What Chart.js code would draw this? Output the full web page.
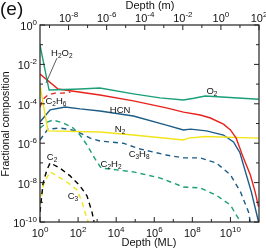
<!DOCTYPE html>
<html><head><meta charset="utf-8">
<script src="https://cdn.jsdelivr.net/npm/chart.js@4.4.1/dist/chart.umd.min.js"></script>
<style>html,body{margin:0;padding:0;background:#fff;overflow:hidden}canvas{display:block}</style>
</head><body>
<canvas id="c" width="266" height="250"></canvas>
<script>
// ---- data (depth in monolayers, fractional composition) ----
const o2Depth   = [1, 3, 130, 1.4e3, 8e4, 2e6, 3.4e7, 1.2e8, 4.8e8, 3e11];
const o2Frac    = [9.5e-2, 5.0e-4, 5.6e-4, 6.3e-4, 3.2e-4, 2.0e-4, 1.55e-4, 1.9e-4, 2.5e-4, 1.7e-4];

const h2o2Depth = [1, 8.9, 1.4e3, 8e4, 4.3e6, 3.4e7, 2.6e8, 8.9e8, 4.3e9, 1e10, 2e10, 4.8e10, 1.1e11, 2e11, 3e11];
const h2o2Frac  = [3.2e-3, 5.6e-4, 2.8e-4, 1.4e-4, 6.2e-5, 3.8e-5, 2.7e-5, 1.9e-5, 9.3e-6, 4.7e-6, 1.8e-6, 1.8e-7, 2.5e-8, 3.3e-9, 5.8e-10];

const hcnDepth  = [1, 3.4, 21, 126, 1.4e3, 8e4, 4.3e6, 3.4e7, 8e7, 5.5e8, 4.3e9, 1.45e10, 3.2e10, 4.8e10, 1.26e11, 3e11];
const hcnFrac   = [1.2e-5, 4.9e-5, 6.9e-5, 5.5e-5, 4.3e-5, 2.4e-5, 8.3e-6, 4.7e-6, 5.2e-6, 4.2e-6, 2.6e-6, 1.15e-6, 3.2e-7, 7.9e-8, 3.3e-9, 1e-10];

const n2Depth   = [1, 2.6, 1.4e3, 8e4, 3.4e7, 6.3e7, 4.8e8, 3e11];
const n2Frac    = [8.9e-4, 4.2e-6, 3.7e-6, 2.6e-6, 1.45e-6, 1.8e-6, 2.2e-6, 1.8e-6];

const c2h6Depth = [1, 1.45, 2.6, 6.2, 16, 40];
const c2h6Frac  = [6.9e-5, 1.7e-4, 2.8e-4, 3.5e-4, 3.5e-4, 4.0e-4];

const c3h8Depth = [1, 2.6, 11, 48, 126, 430, 1.4e3, 2.3e4, 1.8e5, 4.3e6, 3.4e7, 2.6e8, 1.8e9, 1e10, 3.4e10, 8.9e10, 1.1e11];
const c3h8Frac  = [1.45e-6, 5.2e-6, 5.9e-6, 4.7e-6, 3.3e-6, 1.8e-6, 1.3e-6, 1.0e-6, 5.1e-7, 2.5e-7, 1.8e-7, 1.8e-7, 1e-7, 2.5e-8, 3.3e-9, 3.2e-10, 1e-10];

const c2h2Depth = [1, 2.6, 4.8, 16, 55, 126, 295, 780, 1.6e3, 8e4, 2.1e6, 3.4e7, 2.6e8, 1.8e9, 1e10, 2e10, 3.4e10];
const c2h2Frac  = [5.9e-6, 1.2e-5, 1.5e-5, 1.07e-5, 5.9e-6, 2.6e-6, 8.1e-7, 1.6e-7, 5.5e-8, 3.5e-8, 1.7e-8, 6e-9, 5.4e-9, 2.3e-9, 7.2e-10, 2.3e-10, 1e-10];

const c2Depth   = [1, 1.45, 2.3, 3.4, 11, 38, 126, 295, 550, 690];
const c2Frac    = [3.2e-10, 9.5e-9, 4.4e-8, 1e-7, 5.5e-8, 2.2e-8, 6.8e-9, 2.1e-9, 2.9e-10, 1e-10];

const c3Depth   = [1, 1.6, 3.4, 6.2, 26, 89, 160, 230, 340];
const c3Frac    = [7.2e-10, 9.5e-9, 3.5e-8, 2.5e-8, 1.07e-8, 4.2e-9, 1.05e-9, 3.2e-10, 1e-10];

// axis ranges / ticks (exponents)
const depthMLMin = 1, depthMLMax = 3.1623e11;
const metresPerML = 3.1623e-10;
const bottomTickExps = [0,1,2,3,4,5,6,7,8,9,10,11];
const bottomLabelExps = [0,2,4,6,8,10];
const topTickExps = [-9,-8,-7,-6,-5,-4,-3,-2,-1,0,1,2];
const topLabelExps = [-8,-6,-4,-2,0,2];
const yTickExps = [0,-1,-2,-3,-4,-5,-6,-7,-8,-9,-10];
const yLabelExps = [0,-2,-4,-6,-8,-10];

// curve labels: [parts, depth, frac]
const curveLabels = [
  [[['H',0],['2',1],['O',0],['2',1]], 14, 3.8e-2],
  [[['C',0],['2',1],['H',0],['6',1]], 6.9, 1.55e-4],
  [[['HCN',0]], 1.6e4, 4.9e-5],
  [[['O',0],['2',1]], 1.07e9, 5e-4],
  [[['N',0],['2',1]], 1.6e4, 5.9e-6],
  [[['C',0],['3',1],['H',0],['8',1]], 1.6e5, 2.9e-7],
  [[['C',0],['2',1],['H',0],['2',1]], 5.4e3, 9.5e-8],
  [[['C',0],['2',1]], 4.3, 2.2e-7],
  [[['C',0],['3',1]], 54, 2.1e-9]
];
const leaderFrom = [7.8, 2.1e-2], leaderTo = [2.07, 1.15e-3];

const GREEN = '#1a9f78', RED = '#e8221c', YELLOW = '#f2e41a', BLUE = '#1d5c86', BLACK = '#000000';
const FONT = '"Liberation Sans", Arial, sans-serif';
const CA = {left: 40, right: 259, top: 25, bottom: 222};

function pts(xs, ys){ return xs.map((x,i)=>({x:x, y:ys[i]})); }
function ds(label, xs, ys, color, dashed){
  return {label, data: pts(xs, ys), borderColor: color, borderWidth: 1.4, pointRadius: 0,
    tension: 0, fill: false, borderDash: dashed ? [5,4] : [], xAxisID: 'x', yAxisID: 'y'};
}

function drawPow(ctx, x, y, exp, align){
  const big = '10', small = String(exp);
  ctx.font = '11px ' + FONT;
  const wb = ctx.measureText(big).width;
  ctx.font = '8px ' + FONT;
  const ws = ctx.measureText(small).width;
  const tot = wb + ws;
  let x0 = align === 'center' ? x - tot/2 : x - tot;
  ctx.textAlign = 'left'; ctx.textBaseline = 'alphabetic';
  ctx.font = '11px ' + FONT; ctx.fillText(big, x0, y);
  ctx.font = '8px ' + FONT; ctx.fillText(small, x0 + wb, y - 5);
}
function drawChem(ctx, parts, cx, cy){
  const big = '9.5px ', sub = '6.5px ';
  let w = 0;
  parts.forEach(p => { ctx.font = (p[1] ? sub : big) + FONT; w += ctx.measureText(p[0]).width; });
  let x = cx - w/2;
  ctx.textAlign = 'left'; ctx.textBaseline = 'alphabetic';
  parts.forEach(p => {
    ctx.font = (p[1] ? sub : big) + FONT;
    ctx.fillText(p[0], x, p[1] ? cy + 5.5 : cy + 3.5);
    x += ctx.measureText(p[0]).width;
  });
}

const decor = {
  id: 'decor',
  afterDraw(chart){
    const ctx = chart.ctx, a = chart.chartArea;
    const sx = chart.scales.x, sxt = chart.scales.xTop, sy = chart.scales.y;
    ctx.save();
    ctx.strokeStyle = '#222'; ctx.fillStyle = '#111'; ctx.lineWidth = 1.2;
    ctx.strokeRect(a.left, a.top, a.right - a.left, a.bottom - a.top);
    ctx.lineWidth = 1;
    ctx.beginPath();
    bottomTickExps.forEach(e => { const px = sx.getPixelForValue(Math.pow(10,e)); const L = bottomLabelExps.includes(e)?5:3;
      ctx.moveTo(px, a.bottom); ctx.lineTo(px, a.bottom - L); });
    topTickExps.forEach(e => { const px = sxt.getPixelForValue(Math.pow(10,e)); const L = topLabelExps.includes(e)?5:3;
      ctx.moveTo(px, a.top); ctx.lineTo(px, a.top + L); });
    yTickExps.forEach(e => { const py = sy.getPixelForValue(Math.pow(10,e)); const L = yLabelExps.includes(e)?5:3;
      ctx.moveTo(a.left, py); ctx.lineTo(a.left + L, py);
      ctx.moveTo(a.right, py); ctx.lineTo(a.right - L, py); });
    ctx.stroke();
    bottomLabelExps.forEach(e => drawPow(ctx, sx.getPixelForValue(Math.pow(10,e)), a.bottom + 15, e, 'center'));
    topLabelExps.forEach(e => drawPow(ctx, sxt.getPixelForValue(Math.pow(10,e)), a.top - 3, e, 'center'));
    yLabelExps.forEach(e => drawPow(ctx, a.left - 3, sy.getPixelForValue(Math.pow(10,e)) + 5, e, 'right'));
    // titles
    ctx.font = '11px ' + FONT; ctx.textAlign = 'center'; ctx.textBaseline = 'middle';
    ctx.fillText('Depth (m)', 150, 6);
    ctx.fillText('Depth (ML)', 149, 243);
    ctx.save(); ctx.translate(6, 124); ctx.rotate(-Math.PI/2);
    ctx.font = '10.5px ' + FONT; ctx.fillText('Fractional composition', 0, 0); ctx.restore();
    ctx.font = '19px ' + FONT; ctx.textAlign = 'left'; ctx.fillText('(e)', 0, 10);
    // curve labels
    ctx.fillStyle = '#111';
    curveLabels.forEach(l => drawChem(ctx, l[0], sx.getPixelForValue(l[1]), sy.getPixelForValue(l[2])));
    ctx.strokeStyle = '#333'; ctx.lineWidth = 0.8; ctx.beginPath();
    ctx.moveTo(sx.getPixelForValue(leaderFrom[0]), sy.getPixelForValue(leaderFrom[1]));
    ctx.lineTo(sx.getPixelForValue(leaderTo[0]), sy.getPixelForValue(leaderTo[1]));
    ctx.stroke();
    ctx.restore();
  }
};

const hidden = {ticks: {display: false}, grid: {display: false}, border: {display: false}, title: {display: false}};
new Chart(document.getElementById('c'), {
  type: 'line',
  data: { datasets: [
    ds('O2', o2Depth, o2Frac, GREEN, false),
    ds('H2O2', h2o2Depth, h2o2Frac, RED, false),
    ds('N2', n2Depth, n2Frac, YELLOW, false),
    ds('HCN', hcnDepth, hcnFrac, BLUE, false),
    ds('C2H6', c2h6Depth, c2h6Frac, RED, true),
    ds('C3H8', c3h8Depth, c3h8Frac, BLUE, true),
    ds('C2H2', c2h2Depth, c2h2Frac, GREEN, true),
    ds('C2', c2Depth, c2Frac, BLACK, true),
    ds('C3', c3Depth, c3Frac, YELLOW, true)
  ]},
  options: {
    responsive: false, animation: false, devicePixelRatio: 1,
    layout: {padding: 0},
    plugins: {legend: {display: false}, tooltip: {enabled: false}},
    scales: {
      x: Object.assign({type: 'logarithmic', position: 'bottom', min: depthMLMin, max: depthMLMax,
        afterFit(s){ s.height = 250 - CA.bottom; }}, hidden),
      xTop: Object.assign({type: 'logarithmic', position: 'top', min: depthMLMin*metresPerML, max: depthMLMax*metresPerML,
        afterFit(s){ s.height = CA.top; }}, hidden),
      y: Object.assign({type: 'logarithmic', position: 'left', min: 1e-10, max: 1,
        afterFit(s){ s.width = CA.left; }}, hidden),
      yR: Object.assign({type: 'logarithmic', position: 'right', min: 1e-10, max: 1,
        afterFit(s){ s.width = 266 - CA.right; }}, hidden)
    }
  },
  plugins: [decor]
});
</script>
</body></html>
